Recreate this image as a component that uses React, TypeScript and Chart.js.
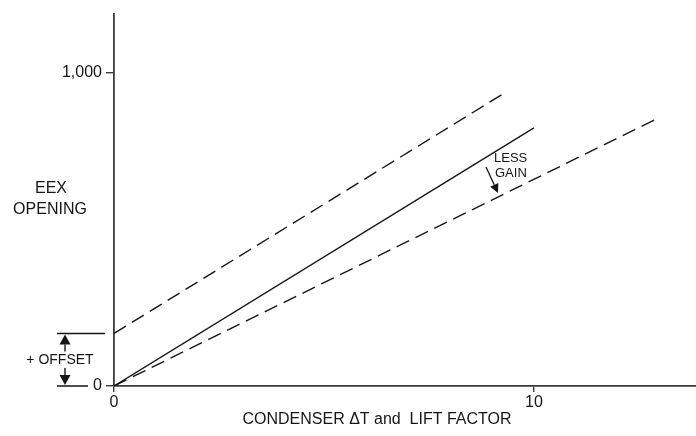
import React, { useEffect, useRef } from "react";
import { Chart, registerables } from "chart.js";

Chart.register(...registerables);

// ---- data ----
const xTickValues = [0, 10];
const xTickLabels = ["0", "10"];
const yTickValues = [0, 1000];
const yTickLabels = ["0", "1,000"];
const xAxisMax = 13.86;
const yAxisMax = 1190;

const baseLineX = [0, 10];
const baseLineY = [0, 825];
const offsetLineX = [0, 9.26];
const offsetLineY = [168, 933];
const lessGainLineX = [0, 12.93];
const lessGainLineY = [0, 854];
const offsetValue = 168;

const xTitle = "CONDENSER \u0394T and  LIFT FACTOR";
const yTitleLines = ["EEX", "OPENING"];
const offsetLabel = "+ OFFSET";
const lessGainLines = ["LESS", "GAIN"];

const INK = "#161616";
const AXIS = "#3f3a3a";
const FONT = "'Liberation Sans', Arial, Helvetica, sans-serif";

const pts = (xs: number[], ys: number[]) => xs.map((x, i) => ({ x, y: ys[i] }));

function arrow(ctx: CanvasRenderingContext2D, x1: number, y1: number, x2: number, y2: number, head = 9, half = 5) {
  const ang = Math.atan2(y2 - y1, x2 - x1);
  const bx = x2 - Math.cos(ang) * head;
  const by = y2 - Math.sin(ang) * head;
  ctx.beginPath();
  ctx.moveTo(x1, y1);
  ctx.lineTo(bx, by);
  ctx.stroke();
  ctx.beginPath();
  ctx.moveTo(x2, y2);
  ctx.lineTo(bx + Math.sin(ang) * half, by - Math.cos(ang) * half);
  ctx.lineTo(bx - Math.sin(ang) * half, by + Math.cos(ang) * half);
  ctx.closePath();
  ctx.fill();
}

const annotationPlugin = {
  id: "annotations",
  afterDraw(chart: any) {
    const ctx: CanvasRenderingContext2D = chart.ctx;
    const xs = chart.scales.x;
    const ys = chart.scales.y;
    const x0 = xs.getPixelForValue(0);
    const y0 = ys.getPixelForValue(0);
    const yOff = ys.getPixelForValue(offsetValue);
    ctx.save();
    ctx.strokeStyle = INK;
    ctx.fillStyle = INK;
    ctx.lineWidth = 1.4;
    // offset bracket lines
    ctx.beginPath();
    ctx.moveTo(57, yOff);
    ctx.lineTo(x0 - 9, yOff);
    ctx.moveTo(57, y0);
    ctx.lineTo(x0 - 26, y0);
    ctx.stroke();
    arrow(ctx, 65, yOff + 18, 65, yOff + 1, 10, 5.5);
    arrow(ctx, 65, y0 - 18, 65, y0 - 1, 10, 5.5);
    ctx.font = `14px ${FONT}`;
    ctx.textAlign = "center";
    ctx.textBaseline = "middle";
    ctx.fillText(offsetLabel, 60, (yOff + y0) / 2);

    // y title
    ctx.font = `16px ${FONT}`;
    ctx.fillText(yTitleLines[0], 51, 189);
    ctx.fillText(yTitleLines[1], 50, 210);

    // x title
    ctx.fillText(xTitle, 377, 420);

    // less gain
    ctx.font = `13px ${FONT}`;
    ctx.textAlign = "left";
    ctx.fillText(lessGainLines[0], 494, 158);
    ctx.fillText(lessGainLines[1], 495, 173);
    ctx.lineWidth = 1.3;
    arrow(ctx, 486, 167, 498, 193, 9, 4.5);
    ctx.restore();
  },
};

export default function App() {
  const ref = useRef<HTMLCanvasElement>(null);
  useEffect(() => {
    if (!ref.current) return;
    const dashed = [14, 7];
    const chart = new Chart(ref.current, {
      type: "line",
      data: {
        datasets: [
          {
            data: pts(offsetLineX, offsetLineY),
            borderColor: INK,
            borderWidth: 1.4,
            borderDash: dashed,
            pointRadius: 0,
            fill: false,
          },
          {
            data: pts(baseLineX, baseLineY),
            borderColor: INK,
            borderWidth: 1.4,
            pointRadius: 0,
            fill: false,
          },
          {
            data: pts(lessGainLineX, lessGainLineY),
            borderColor: INK,
            borderWidth: 1.4,
            borderDash: dashed,
            pointRadius: 0,
            fill: false,
          },
        ],
      },
      options: {
        responsive: false,
        animation: false,
        devicePixelRatio: 1,
        layout: { padding: { top: 11, right: 0, left: 0, bottom: 0 } },
        plugins: { legend: { display: false }, tooltip: { enabled: false } },
        scales: {
          x: {
            type: "linear",
            min: 0,
            max: xAxisMax,
            afterBuildTicks: (s: any) => {
              s.ticks = xTickValues.map((v) => ({ value: v }));
            },
            afterFit: (s: any) => {
              s.height = 50;
            },
            ticks: {
              callback: (v: any) => xTickLabels[xTickValues.indexOf(Number(v))] ?? "",
              color: INK,
              font: { family: FONT, size: 16 },
              padding: 1,
              maxRotation: 0,
            },
            grid: { drawOnChartArea: false, drawTicks: true, tickLength: 6, color: AXIS, lineWidth: 1.4 },
            border: { display: true, color: AXIS, width: 1.8 },
          },
          y: {
            type: "linear",
            min: 0,
            max: yAxisMax,
            afterBuildTicks: (s: any) => {
              s.ticks = yTickValues.map((v) => ({ value: v }));
            },
            afterFit: (s: any) => {
              s.width = 114;
            },
            ticks: {
              callback: (v: any) => yTickLabels[yTickValues.indexOf(Number(v))] ?? "",
              color: INK,
              font: { family: FONT, size: 16 },
              padding: 4,
            },
            grid: { drawOnChartArea: false, drawTicks: true, tickLength: 8, color: AXIS, lineWidth: 1.4 },
            border: { display: true, color: AXIS, width: 1.8 },
          },
        },
      },
      plugins: [annotationPlugin],
    } as any);
    return () => chart.destroy();
  }, []);
  return (
    <div style={{ position: "absolute", left: 0, top: 0, width: 696, height: 436, background: "#fff" }}>
      <canvas ref={ref} width={696} height={436} style={{ display: "block" }} />
    </div>
  );
}
